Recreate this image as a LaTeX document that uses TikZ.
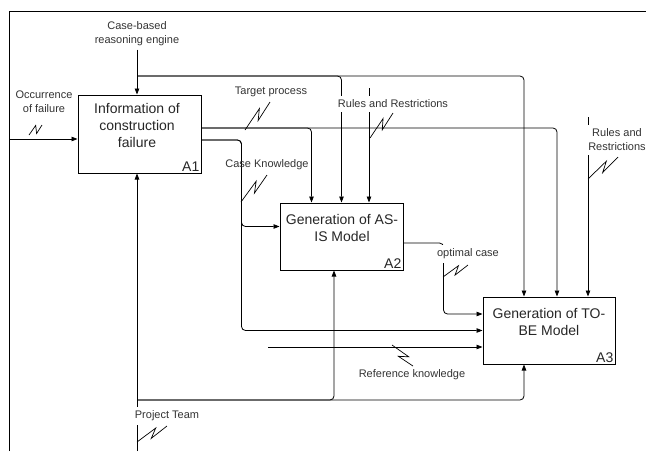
\documentclass[tikz,border=0pt]{standalone}
\usepackage{fontspec}
\setmainfont{Liberation Sans}
\usetikzlibrary{arrows.meta,calc,positioning}
\newcommand{\zz}[2]{\draw[zz] (#1) -- ($(#1)!0.68!(#2)!3.5pt!90:(#2)$) -- ($(#1)!0.42!(#2)!3.5pt!-90:(#2)$) -- (#2);}

\begin{document}
\begin{tikzpicture}[x=1pt,y=-1pt,
	box/.style={draw,line width=1pt,rectangle,inner sep=0pt},
	boxtxt/.style={font=\fontsize{14}{17}\selectfont,text=black!85,align=center},
	num/.style={font=\fontsize{14}{17}\selectfont,text=black!85,anchor=south east,inner sep=2pt},
	lbl/.style={font=\fontsize{11}{14}\selectfont,text=black!80,align=center},
	wlbl/.style={lbl,fill=white,inner xsep=1pt,inner ysep=3.5pt},
	arr/.style={-{Triangle[length=6pt,width=4.5pt]},line width=0.8pt},
	rc/.style={rounded corners=4pt},
	zz/.style={line width=0.7pt}]

	\useasboundingbox (0,0) rectangle (646,451);
	\draw[line width=0.8pt] (9,451) -- (9,11) -- (646,11);

	% activity boxes
	\node[box,minimum width=123pt,minimum height=78pt] (a1) at (139.5,134) {};
	\node[box,minimum width=123pt,minimum height=67pt] (a2) at (341.5,236.5) {};
	\node[box,minimum width=132pt,minimum height=67pt] (a3) at (549,330.5) {};

	\node[boxtxt] (a1t) at (137,125.5) {Information of\\construction\\failure};
	\node[boxtxt] (a2t) at (342,228) {Generation of AS-\\IS Model};
	\node[boxtxt] (a3t) at (549,322) {Generation of TO-\\BE Model};
	\node[num] (a1n) at (a1.south east) {A1};
	\node[num] (a2n) at (a2.south east) {A2};
	\node[num] (a3n) at (a3.south east) {A3};

	% input
	\coordinate (occin) at (9,139);
	\draw[arr] (occin) -- (occin -| a1.west);
	\node[lbl] (occ) at (44,102) {Occurrence\\of failure};
	\zz{29,135}{42,125}

	% controls
	\node[lbl] (cbr) at (137,34) {Case-based\\reasoning engine};
	\draw[arr] (cbr.south) -- (cbr.south |- a1.north);
	\coordinate (cbrj) at (137,76);
	\draw[arr,rc] (cbrj) -| (a2.north);
	\draw[arr,rc] (cbrj) -| ($(a3.north)+(-25,0)$);

	\coordinate (rr1s) at (369,88);
	\draw[arr] (rr1s) -- (rr1s |- a2.north);
	\node[wlbl] (rr1) at (393,104) {Rules and Restrictions};
	\zz{370,138}{393,113}

	\coordinate (rr2s) at (588,117);
	\draw[arr] (rr2s) -- (rr2s |- a3.north);
	\node[wlbl] (rr2) at (617,140) {Rules and\\Restrictions};
	\zz{588,179}{618,157}

	% outputs of A1
	\draw[arr,rc] ($(a1.east)+(0,-6)$) -| ($(a2.north west)+(32,0)$);
	\draw[arr,rc] ($(a1.east)+(0,-6)$) -| ($(a3.north)+(8,0)$);
	\node[lbl] (tp) at (271,92) {Target process};
	\zz{245,130}{270,102}

	\draw[arr,rc] ($(a1.east)+(0,6)$) -- ++(40,0) |- ($(a2.west)+(0,-10)$);
	\draw[arr,rc] ($(a1.east)+(0,6)$) -- ++(40,0) |- (a3.west);
	\node[lbl] (ck) at (267,165) {Case Knowledge};
	\zz{241,202}{267,175}

	% output of A2
	\draw[arr,rc] ($(a2.east)+(0,6.5)$) -- ++(40,0) |- ($(a3.west)+(0,-16.5)$);
	\node[wlbl] (opt) at (468,254) {optimal case};
	\zz{443,277}{468,265}

	% reference input
	\coordinate (refin) at (268,347);
	\draw[arr] (refin) -- (refin -| a3.west);
	\node[lbl] (refk) at (412,375) {Reference knowledge};
	\zz{392,345}{413,366}

	% mechanism
	\coordinate (ptb) at (137,451);
	\draw[arr] (ptb) -- (ptb |- a1.south);
	\coordinate (ptj) at (137,400);
	\draw[arr,rc] (ptj) -| ($(a3.south)+(-25,0)$);
	\draw[arr,rc] (ptj) -| ($(a2.south)+(-7.5,0)$);
	\node[wlbl] (pt) at (167,416) {Project Team};
	\zz{137,442}{167,426}
\end{tikzpicture}
\end{document}
